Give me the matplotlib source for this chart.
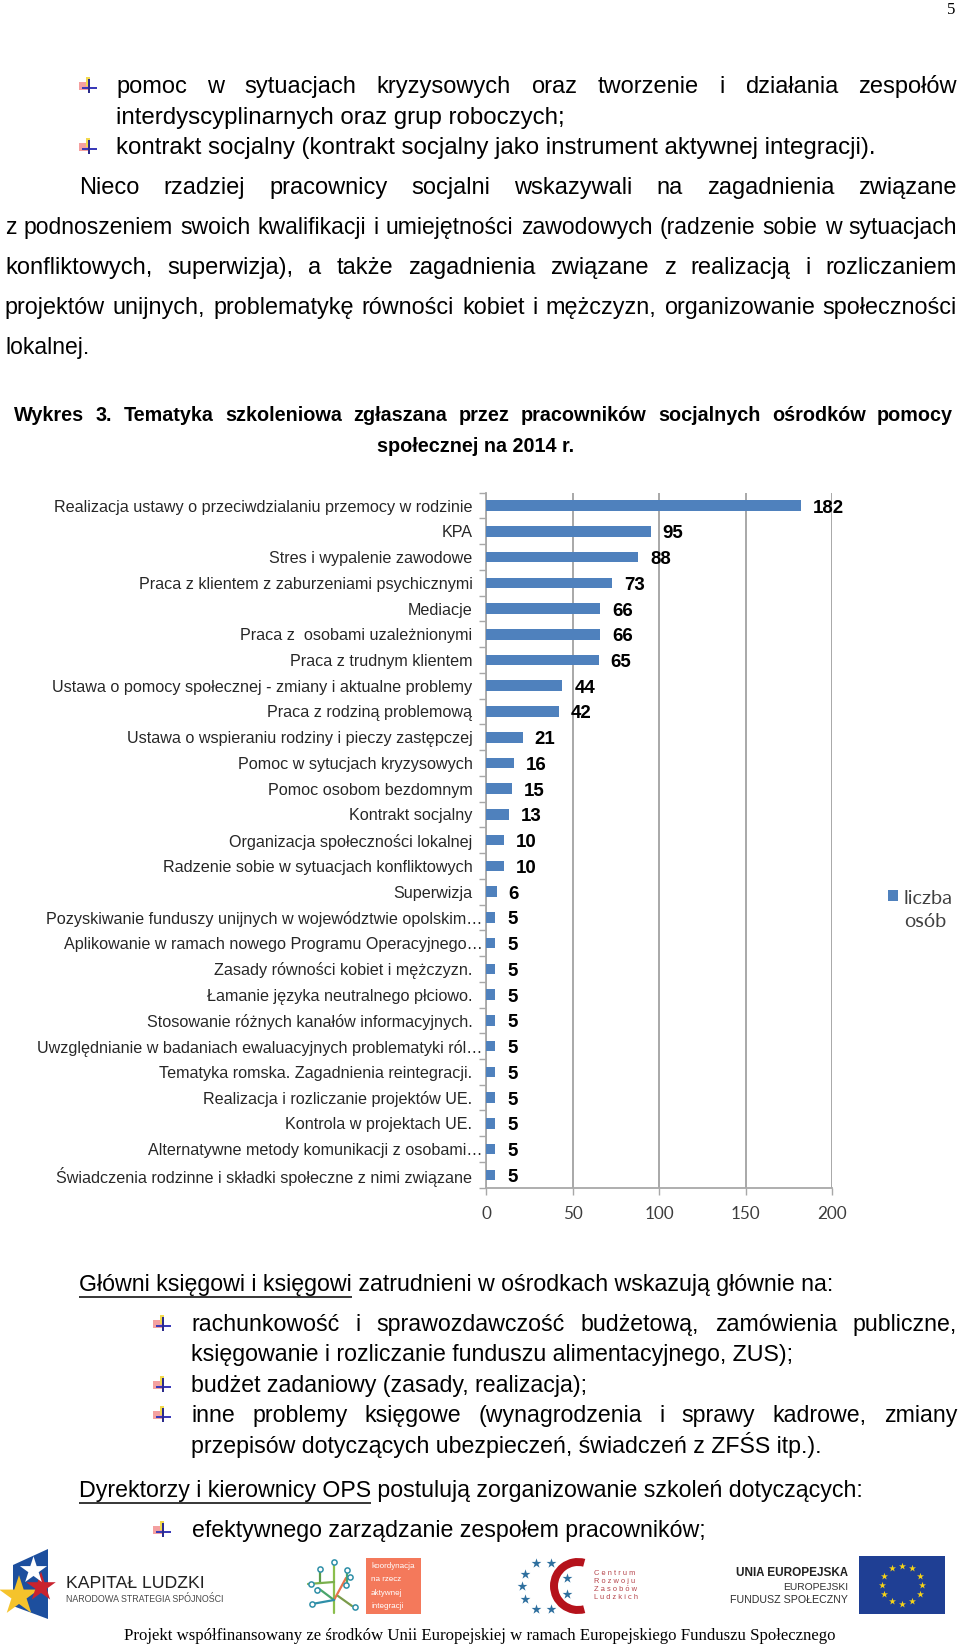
import matplotlib
matplotlib.use("Agg")
import matplotlib.pyplot as plt
from matplotlib.patches import Rectangle, Polygon, Wedge
from matplotlib.transforms import ScaledTranslation

plt.rcParams["text.hinting"] = "native"

W, H = 960, 1645
SANS = "Liberation Sans"
SERIF = "Liberation Serif"

categories = [
    "Realizacja ustawy o przeciwdzialaniu przemocy w rodzinie",
    "KPA",
    "Stres i wypalenie zawodowe",
    "Praca z klientem z zaburzeniami psychicznymi",
    "Mediacje",
    "Praca z  osobami uzależnionymi",
    "Praca z trudnym klientem",
    "Ustawa o pomocy społecznej - zmiany i aktualne problemy",
    "Praca z rodziną problemową",
    "Ustawa o wspieraniu rodziny i pieczy zastępczej",
    "Pomoc w sytucjach kryzysowych",
    "Pomoc osobom bezdomnym",
    "Kontrakt socjalny",
    "Organizacja społeczności lokalnej",
    "Radzenie sobie w sytuacjach konfliktowych",
    "Superwizja",
    "Pozyskiwanie funduszy unijnych w województwie opolskim…",
    "Aplikowanie w ramach nowego Programu Operacyjnego…",
    "Zasady równości kobiet i mężczyzn.",
    "Łamanie języka neutralnego płciowo.",
    "Stosowanie różnych kanałów informacyjnych.",
    "Uwzględnianie w badaniach ewaluacyjnych problematyki ról…",
    "Tematyka romska. Zagadnienia reintegracji.",
    "Realizacja i rozliczanie projektów UE.",
    "Kontrola w projektach UE.",
    "Alternatywne metody komunikacji z osobami…",
    "Świadczenia rodzinne i składki społeczne z nimi związane",
]
values = [182, 95, 88, 73, 66, 66, 65, 44, 42, 21, 16, 15, 13, 10, 10, 6,
          5, 5, 5, 5, 5, 5, 5, 5, 5, 5, 5]
x_ticks = [0, 50, 100, 150, 200]
series_name = "liczba\nosób"

BLUE = "#4f81bd"
GRID = "#a8a8a8"
TOP_SIZE = 17.0
LOW_SIZE = 16.7

fig = plt.figure(figsize=(W / 100, H / 100), dpi=100, facecolor="white")
bg = fig.add_axes([0, 0, 1, 1])
bg.set_xlim(0, W)
bg.set_ylim(H, 0)
bg.axis("off")
renderer = fig.canvas.get_renderer()


def width_of(t):
    return t.get_window_extent(renderer).width


def line(s, x, y, right=None, size=TOP_SIZE, weight="normal"):
    """One line of text on a common baseline; with right= the words are spread out to that edge."""
    base = y + 0.25 * size * 100 / 72
    if right is None:
        return bg.text(x, base, s, fontsize=size, family=SANS, weight=weight, va="baseline", color="black")
    words = s.split()
    items = [bg.text(x, base, w, fontsize=size, family=SANS, weight=weight, va="baseline", color="black")
             for w in words]
    widths = [width_of(t) for t in items]
    gap = (right - x - sum(widths)) / (len(words) - 1)
    cur = x
    for t, w in zip(items, widths):
        t.set_x(cur)
        cur += w + gap


def underlined(head, tail, x, y):
    t = line(head, x, y, size=LOW_SIZE)
    w = width_of(t)
    bg.plot([x, x + w], [y + 12, y + 12], color="black", lw=1.1, solid_capstyle="butt")
    line(tail, x + w, y, size=LOW_SIZE)


def bullet(x, y):
    bg.add_patch(Rectangle((x, y - 4), 9, 8, color="#f4a0a0", lw=0))
    bg.add_patch(Rectangle((x + 7, y - 9), 4, 9, color="#f2d94e", lw=0))
    bg.add_patch(Rectangle((x + 3, y + 0.5), 15, 2.8, color="#3a3ab8", lw=0))
    bg.add_patch(Rectangle((x + 8.5, y - 7), 2.6, 14, color="#2c2c8c", lw=0))


# Body text above the chart
bg.text(950, 10, "5", fontsize=12, family=SERIF, ha="center", va="center")
bullet(79, 86)
bullet(79, 147)
line("pomoc w sytuacjach kryzysowych oraz tworzenie i działania zespołów", 116, 87, right=957)
line("interdyscyplinarnych oraz grup roboczych;", 116, 117.5, size=17.3)
line("kontrakt socjalny (kontrakt socjalny jako instrument aktywnej integracji).", 116, 148, size=17.3)
line("Nieco rzadziej pracownicy socjalni wskazywali na zagadnienia związane", 79, 188, right=957)
line("z podnoszeniem swoich kwalifikacji i umiejętności zawodowych (radzenie sobie w sytuacjach", 5, 228, right=957, size=16.6)
line("konfliktowych, superwizja), a także zagadnienia związane z realizacją i rozliczaniem", 5, 268, right=957)
line("projektów unijnych, problematykę równości kobiet i mężczyzn, organizowanie społeczności", 5, 308, right=957, size=16.8)
line("lokalnej.", 5, 348, size=16.5)
line("Wykres 3. Tematyka szkoleniowa zgłaszana przez pracowników socjalnych ośrodków pomocy",
     14, 416, right=953, size=14.3, weight="bold")
bg.text(476, 446, "społecznej na 2014 r.", fontsize=14.3, family=SANS, weight="bold", ha="center", va="center")

# Body text below the chart
underlined("Główni księgowi i księgowi", " zatrudnieni w ośrodkach wskazują głównie na:", 79, 1285)
bullet(153, 1324)
bullet(153, 1385)
bullet(153, 1415)
bullet(153, 1530)
line("rachunkowość i sprawozdawczość budżetową, zamówienia publiczne,", 191, 1325, right=957, size=LOW_SIZE)
line("księgowanie i rozliczanie funduszu alimentacyjnego, ZUS);", 191, 1355.5, size=LOW_SIZE)
line("budżet zadaniowy (zasady, realizacja);", 191, 1386, size=LOW_SIZE)
line("inne problemy księgowe (wynagrodzenia i sprawy kadrowe, zmiany", 191, 1416, right=957, size=LOW_SIZE)
line("przepisów dotyczących ubezpieczeń, świadczeń z ZFŚS itp.).", 191, 1447, size=LOW_SIZE)
underlined("Dyrektorzy i kierownicy OPS", " postulują zorganizowanie szkoleń dotyczących:", 79, 1491)
line("efektywnego zarządzanie zespołem pracowników;", 192, 1531, size=LOW_SIZE)

# Chart
x0, x200, top, bottom = 486.3, 832.0, 492.7, 1187.7
ax = fig.add_axes([x0 / W, 1 - bottom / H, (x200 - x0) / W, (bottom - top) / H])
ax.patch.set_alpha(0)
n = len(categories)
pos = list(range(n))
bars = ax.barh(pos, values, height=0.41, color=BLUE, label=series_name, zorder=3)
ax.set_xlim(0, 200)
ax.set_ylim(n - 0.5, -0.5)
ax.set_xticks(x_ticks)
ax.set_xticklabels([str(v) for v in x_ticks], family="Lato", fontsize=12.3, color="#3c3c3c")
ax.set_yticks(pos)
ax.set_yticklabels(categories, family=SANS, fontsize=11.65, color="#262626", va="center_baseline")
ax.set_yticks([p - 0.5 for p in pos] + [n - 0.5], minor=True)
ax.tick_params(axis="y", which="major", length=0, pad=10)
ax.tick_params(axis="y", which="minor", length=5, width=1, color=GRID)
ax.tick_params(axis="x", length=5, width=1, color=GRID, pad=8)
ax.xaxis.grid(True, color=GRID, lw=1.4, zorder=1)
ax.set_axisbelow(True)
for s in ("top", "right"):
    ax.spines[s].set_visible(False)
for s in ("left", "bottom"):
    ax.spines[s].set_color(GRID)
    ax.spines[s].set_linewidth(1.3)
for lab, name in zip(ax.get_yticklabels(), categories):
    if name.endswith("…"):
        lab.set_transform(lab.get_transform() + ScaledTranslation(10 / 100, 0, fig.dpi_scale_trans))
for p, v in zip(pos, values):
    ax.annotate(str(v), xy=(v, p), xytext=(12, -2), textcoords="offset pixels", ha="left", va="center",
                family=SANS, weight="bold", fontsize=13.4, color="black", zorder=4)
leg = fig.legend(loc="upper left", bbox_to_anchor=(878 / W, 1 - 880 / H), frameon=False,
                 prop={"family": "Lato", "size": 14.3}, handlelength=0.5, handleheight=0.5,
                 handletextpad=0.3, borderpad=0, labelspacing=0, labelcolor="#404040")
leg.get_texts()[0].set_linespacing(1.4)
leg.legend_handles[0].set_y(11)

# Footer logos
bg.add_patch(Polygon([(13, 1565), (48, 1549), (48, 1619), (13, 1606)], color="#1d4f9e", lw=0))
bg.scatter([19, 41], [1596, 1587], marker="*", s=[900, 500], color=["#f5c32c", "#c9232e"], lw=0, zorder=3)
bg.scatter([33], [1570], marker="*", s=420, color="white", lw=0, zorder=3)
bg.text(66, 1583, "KAPITAŁ LUDZKI", family=SANS, fontsize=12.7, va="center", color="#222222")
bg.text(66, 1599, "NARODOWA STRATEGIA SPÓJNOŚCI", family=SANS, fontsize=6.4, va="center", color="#444444")

for xs, ys, c in [([334, 334], [1562, 1613], "#8bbf4d"), ([334, 346], [1600, 1578], "#e8724a"),
                  ([334, 318], [1600, 1588], "#4aa56b"), ([334, 312], [1600, 1604], "#2f8fa8"),
                  ([338, 352], [1596, 1606], "#7a9b4a"), ([347, 347], [1584, 1570], "#4aa56b"),
                  ([320, 320], [1582, 1570], "#5a9b4a"), ([334, 308], [1582, 1584], "#7aaf4d")]:
    bg.plot(xs, ys, color=c, lw=1.6, solid_capstyle="round")
bg.scatter([334, 347, 320, 350, 312, 355, 311, 317, 346], [1562, 1570, 1569, 1577, 1604, 1607, 1584, 1590, 1585],
           s=14, facecolor="white", edgecolor="#2f8fa8", lw=1.1, zorder=3)
bg.add_patch(Rectangle((366, 1558), 55, 56, color="#f4795b", lw=0))
bg.text(371, 1586, "koordynacja\nna rzecz\naktywnej\nintegracji", family=SANS, fontsize=5.8,
        color="white", va="center", linespacing=1.9)

bg.add_patch(Wedge((578, 1586), 28, 75, 285, width=8, color="#b5121b", lw=0))
bg.scatter([536, 551, 525, 522, 525, 536, 551, 567, 567], [1563, 1563, 1574, 1586, 1599, 1609, 1609, 1578, 1594],
           marker="*", s=55, color="#2e6f9e", lw=0)
bg.text(594, 1585, "C e n t r u m\nR o z w o j u\nZ a s o b ó w\nL u d z k i c h", family=SANS, fontsize=5.4,
        color="#b5434a", va="center", linespacing=1.45)

bg.text(848, 1572, "UNIA EUROPEJSKA", family=SANS, weight="bold", fontsize=8.5, ha="right", va="center", color="#222222")
bg.text(848, 1587, "EUROPEJSKI", family=SANS, fontsize=7.4, ha="right", va="center", color="#333333")
bg.text(848, 1600, "FUNDUSZ SPOŁECZNY", family=SANS, fontsize=7.7, ha="right", va="center", color="#333333")
bg.add_patch(Rectangle((858.5, 1556), 86.5, 58, color="#1f3f94", lw=0))
bg.scatter([902, 912, 920, 922, 920, 912, 902, 892, 884, 882, 884, 892],
           [1566, 1568, 1576, 1585, 1594, 1601, 1604, 1601, 1594, 1585, 1576, 1568],
           marker="*", s=28, color="#f7d417", lw=0, zorder=3)
bg.text(480, 1636, "Projekt współfinansowany ze środków Unii Europejskiej w ramach Europejskiego Funduszu Społecznego",
        family=SERIF, fontsize=12.1, ha="center", va="center", color="black")

fig.savefig("out.png", dpi=100)
